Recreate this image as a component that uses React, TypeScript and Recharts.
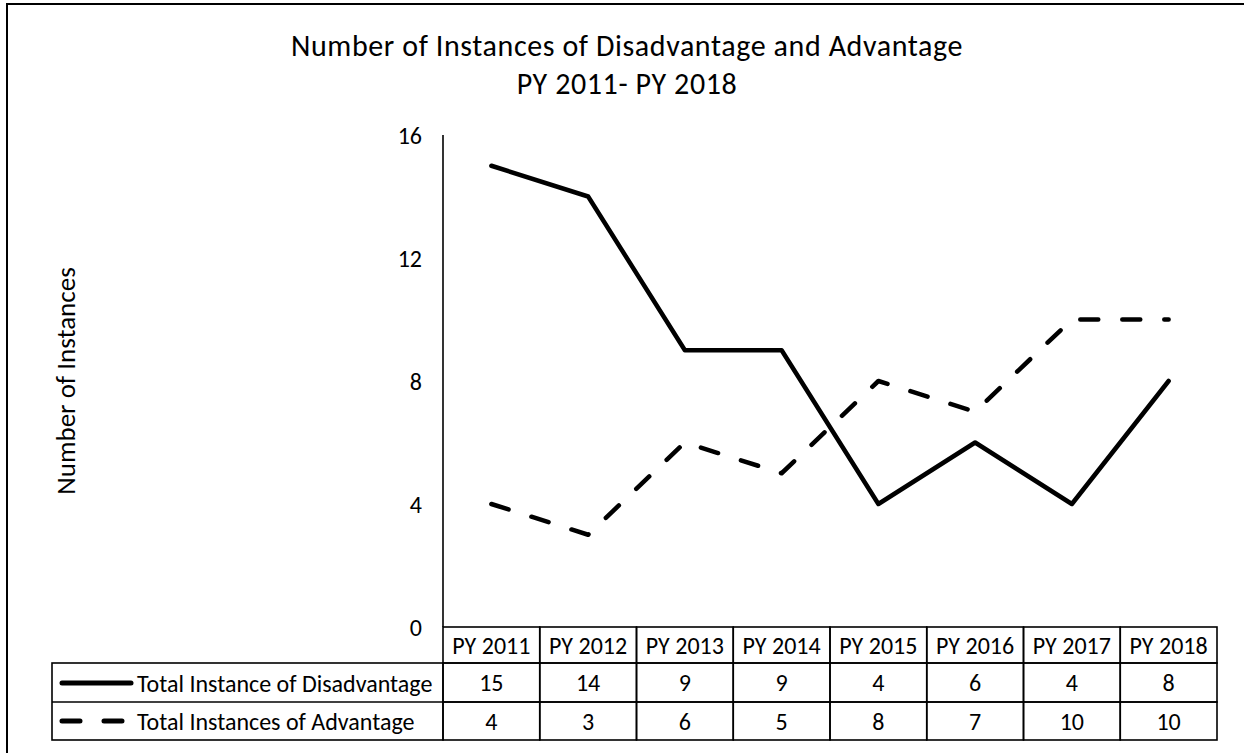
import { CartesianGrid, Customized, Line, LineChart, XAxis, YAxis } from 'recharts'

const categories = ['PY 2011', 'PY 2012', 'PY 2013', 'PY 2014', 'PY 2015', 'PY 2016', 'PY 2017', 'PY 2018']
const disadvantage = [15, 14, 9, 9, 4, 6, 4, 8]
const advantage = [4, 3, 6, 5, 8, 7, 10, 10]
const yTicks = [0, 4, 8, 12, 16]
const seriesNames = ['Total Instance of Disadvantage', 'Total Instances of Advantage']

const data = categories.map((year, i) => ({
  year,
  disadvantage: disadvantage[i],
  advantage: advantage[i],
}))

const FONT = "Calibri, Carlito, Lato, 'Open Sans', sans-serif"
const W = 1244
const H = 753
const PLOT_LEFT = 443
const PLOT_RIGHT = 1217
const PLOT_TOP = 135
const PLOT_BOTTOM = 627
const AXIS_W = 60
const XAXIS_H = 36
const COL_W = (PLOT_RIGHT - PLOT_LEFT) / categories.length
const ROW1 = 663
const ROW2 = 702
const TABLE_BOTTOM = 740
const TABLE_LEFT = 52
const DASH = '18 24'
const TABLE_FONT = 24

function TableColumn(props: any) {
  const { x, payload } = props
  const i = payload.index
  const left = x - COL_W / 2
  const cells = [
    { top: PLOT_BOTTOM, bottom: ROW1, text: categories[i] },
    { top: ROW1, bottom: ROW2, text: String(disadvantage[i]) },
    { top: ROW2, bottom: TABLE_BOTTOM, text: String(advantage[i]) },
  ]
  return (
    <g>
      {cells.map((c, k) => (
        <g key={k}>
          <rect x={left} y={c.top} width={COL_W} height={c.bottom - c.top} fill="none" stroke="#000" strokeWidth={1.6} />
          <text
            x={x}
            y={(c.top + c.bottom) / 2}
            textAnchor="middle"
            dominantBaseline="central"
            fontFamily={FONT}
            fontSize={TABLE_FONT}
            fill="#000"
          >
            {c.text}
          </text>
        </g>
      ))}
    </g>
  )
}

function Decorations() {
  return (
    <g>
      <text
        x={627}
        y={45}
        textAnchor="middle"
        dominantBaseline="central"
        fontFamily={FONT}
        fontSize={30}
        letterSpacing={0.6}
        fill="#000"
      >
        Number of Instances of Disadvantage and Advantage
      </text>
      <text
        x={627}
        y={83}
        textAnchor="middle"
        dominantBaseline="central"
        fontFamily={FONT}
        fontSize={30}
        letterSpacing={0.6}
        fill="#000"
      >
        PY 2011- PY 2018
      </text>
      <text
        x={65}
        y={381}
        transform="rotate(-90 65 381)"
        textAnchor="middle"
        dominantBaseline="central"
        fontFamily={FONT}
        fontSize={27}
        fill="#000"
      >
        Number of Instances
      </text>

      {/* legend side of the data table */}
      <rect x={TABLE_LEFT} y={ROW1} width={PLOT_LEFT - TABLE_LEFT} height={TABLE_BOTTOM - ROW1} fill="none" stroke="#000" strokeWidth={1.6} />
      <line x1={TABLE_LEFT} x2={PLOT_LEFT} y1={ROW2} y2={ROW2} stroke="#000" strokeWidth={1.6} />
      <line x1={62} x2={131} y1={683} y2={683} stroke="#000" strokeWidth={5} strokeLinecap="round" />
      <line x1={62} x2={128} y1={721} y2={721} stroke="#000" strokeWidth={5} strokeLinecap="round" strokeDasharray={DASH} />
      <text x={137} y={683} dominantBaseline="central" fontFamily={FONT} fontSize={TABLE_FONT} fill="#000">
        {seriesNames[0]}
      </text>
      <text x={137} y={721} dominantBaseline="central" fontFamily={FONT} fontSize={TABLE_FONT} fill="#000">
        {seriesNames[1]}
      </text>
    </g>
  )
}

export default function App() {
  return (
    <div style={{ position: 'absolute', left: 0, top: 0, width: W, height: H, overflow: 'hidden', background: '#fff' }}>
      <div
        style={{
          position: 'absolute',
          left: 6,
          top: 3,
          width: W + 20,
          height: H + 20,
          border: '2px solid #000',
          boxSizing: 'border-box',
        }}
      />
      <div style={{ position: 'absolute', left: 0, top: 0 }}>
        <LineChart
          width={W}
          height={H}
          data={data}
          margin={{ top: PLOT_TOP, right: W - PLOT_RIGHT, bottom: H - PLOT_BOTTOM - XAXIS_H, left: PLOT_LEFT - AXIS_W }}
        >
          <CartesianGrid horizontal={false} vertical={false} />
          <XAxis
            dataKey="year"
            height={XAXIS_H}
            interval={0}
            axisLine={false}
            tickLine={false}
            padding={{ left: COL_W / 2, right: COL_W / 2 }}
            tick={<TableColumn />}
          />
          <YAxis
            width={AXIS_W}
            domain={[0, 16]}
            ticks={yTicks}
            tickLine={false}
            tickSize={0}
            tickMargin={21}
            axisLine={{ stroke: '#000', strokeWidth: 1.6 }}
            tick={{ fill: '#000', fontSize: 24, fontFamily: FONT }}
          />
          <Line
            dataKey="disadvantage"
            name={seriesNames[0]}
            stroke="#000"
            strokeWidth={4.5}
            strokeLinecap="round"
            strokeLinejoin="round"
            dot={false}
            activeDot={false}
            isAnimationActive={false}
          />
          <Line
            dataKey="advantage"
            name={seriesNames[1]}
            stroke="#000"
            strokeWidth={4.5}
            strokeLinecap="round"
            strokeLinejoin="round"
            strokeDasharray={DASH}
            dot={false}
            activeDot={false}
            isAnimationActive={false}
          />
          <Customized component={<Decorations />} />
        </LineChart>
      </div>
    </div>
  )
}
